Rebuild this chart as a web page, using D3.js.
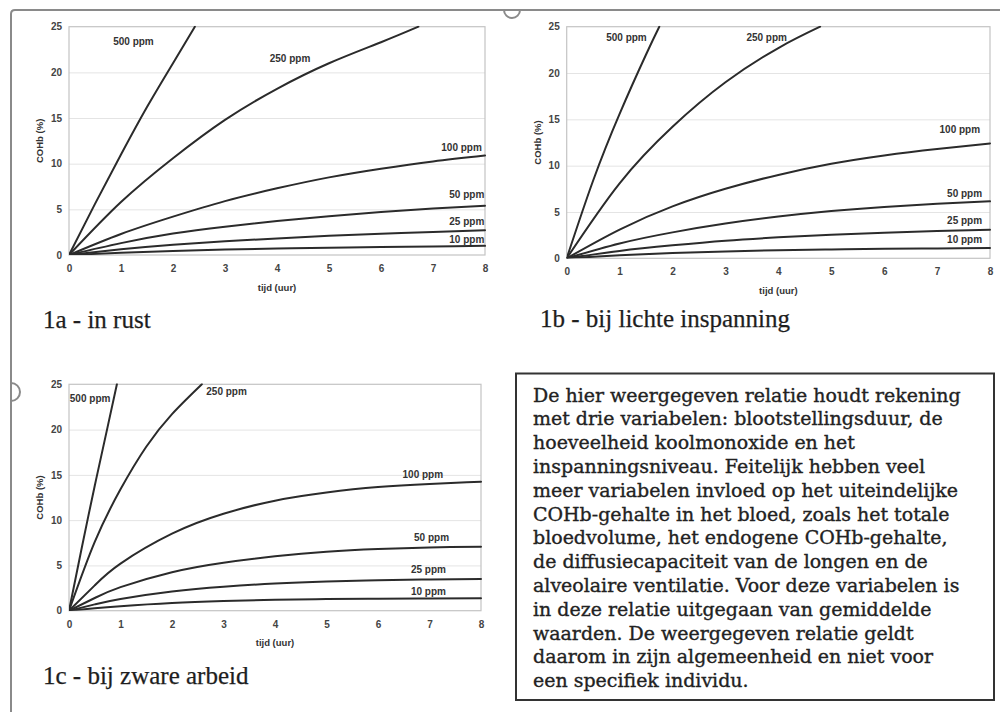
<!DOCTYPE html>
<html>
<head>
<meta charset="utf-8">
<script src="https://cdn.jsdelivr.net/npm/d3@7"></script>
<style>
  html, body { margin: 0; padding: 0; background: #fff; }
  svg { display: block; }
</style>
</head>
<body>
<svg id="chart" width="1000" height="712"></svg>
<script>
// ---------------- data ----------------
const hours = [0, 1, 2, 3, 4, 5, 6, 7, 8];
const hoursFine = [0, 0.5, 1, 2, 3, 4, 5, 6, 7, 8];
const seriesNames = ["500 ppm", "250 ppm", "100 ppm", "50 ppm", "25 ppm", "10 ppm"];
const yTicks = [0, 5, 10, 15, 20, 25];
const xTicks = [0, 1, 2, 3, 4, 5, 6, 7, 8];
const xTitle = "tijd (uur)";
const yTitle = "COHb (%)";
const captions = ["1a - in rust", "1b - bij lichte inspanning", "1c - bij zware arbeid"];

// 1a - in rust
const restT500 = [0, 0.5, 1, 1.5, 2, 2.42];
const restV500 = [0, 5.6, 11.0, 16.2, 21.0, 25];
const restT250 = [0, 1, 2, 3, 4, 5, 6, 6.72];
const restV250 = [0, 5.8, 10.6, 14.8, 18.2, 21.0, 23.3, 25];
const rest100 = [0, 2.3, 4.2, 5.9, 7.3, 8.5, 9.45, 10.25, 10.9];
const rest50  = [0, 1.3, 2.35, 3.1, 3.72, 4.25, 4.7, 5.08, 5.4];
const rest25  = [0, 0.62, 1.12, 1.5, 1.82, 2.1, 2.32, 2.53, 2.72];
const rest10  = [0, 0.25, 0.45, 0.6, 0.71, 0.8, 0.87, 0.94, 1.0];
const restLabelT = [1.24, 4.25, 7.55, 7.65, 7.65, 7.65];
const restLabelV = [23.25, 21.43, 11.68, 6.57, 3.54, 1.57];

// 1b - bij lichte inspanning
const lightT500 = [0, 0.5, 1, 1.5, 1.75];
const lightV500 = [0, 8.4, 15.6, 22.0, 25];
const lightT250 = [0, 1, 2, 3, 4, 4.79];
const lightV250 = [0, 8.1, 14.2, 19.0, 22.7, 25];
const light100 = [0, 3.1, 5.6, 7.5, 9.0, 10.2, 11.1, 11.8, 12.4];
const light50  = [0, 1.6, 2.8, 3.75, 4.5, 5.1, 5.55, 5.88, 6.15];
const light25  = [0, 0.8, 1.4, 1.9, 2.26, 2.55, 2.77, 2.95, 3.08];
const light10  = [0, 0.32, 0.56, 0.74, 0.87, 0.96, 1.02, 1.07, 1.1];
const lightLabelT = [1.13, 3.78, 7.43, 7.52, 7.52, 7.52];
const lightLabelV = [23.75, 23.75, 13.77, 6.94, 3.95, 1.97];

// 1c - bij zware arbeid
const heavyT500 = [0, 0.25, 0.5, 0.75, 0.93];
const heavyV500 = [0, 7.0, 13.8, 20.3, 25];
const heavyT250 = [0, 0.5, 1, 1.5, 2, 2.58];
const heavyV250 = [0, 7.6, 13.4, 18.1, 21.7, 25];
const heavy100 = [0, 2.8, 5.2, 8.5, 10.7, 12.15, 13.05, 13.65, 14.0, 14.25];
const heavy50  = [0, 1.4, 2.6, 4.25, 5.3, 6.0, 6.5, 6.8, 6.98, 7.07];
const heavy25  = [0, 0.7, 1.3, 2.12, 2.65, 3.0, 3.22, 3.36, 3.45, 3.5];
const heavy10  = [0, 0.27, 0.5, 0.85, 1.06, 1.2, 1.28, 1.32, 1.35, 1.37];
const heavyLabelT = [0.41, 3.06, 6.87, 7.04, 6.98, 6.98];
const heavyLabelV = [23.35, 24.13, 14.99, 8.0, 4.43, 2.04];

const noteLines = [
  "De hier weergegeven relatie houdt rekening",
  "met drie variabelen: blootstellingsduur, de",
  "hoeveelheid koolmonoxide en het",
  "inspanningsniveau. Feitelijk hebben veel",
  "meer variabelen invloed op het uiteindelijke",
  "COHb-gehalte in het bloed, zoals het totale",
  "bloedvolume, het endogene COHb-gehalte,",
  "de diffusiecapaciteit van de longen en de",
  "alveolaire ventilatie. Voor deze variabelen is",
  "in deze relatie uitgegaan van gemiddelde",
  "waarden. De weergegeven relatie geldt",
  "daarom in zijn algemeenheid en niet voor",
  "een specifiek individu."
];

// ---------------- build ----------------
const zip = (ts, vs) => ts.map((t, i) => ({ t, v: vs[i] }));

const panels = [
  {
    box: { x0: 69, x1: 485, y0: 26.7, y1: 255 },
    caption: { x: 43, y: 328 },
    series: [zip(restT500, restV500), zip(restT250, restV250), zip(hours, rest100),
             zip(hours, rest50), zip(hours, rest25), zip(hours, rest10)],
    labelT: restLabelT, labelV: restLabelV, caption_i: 0
  },
  {
    box: { x0: 566.7, x1: 990, y0: 26.7, y1: 258.3 },
    caption: { x: 540, y: 327 },
    series: [zip(lightT500, lightV500), zip(lightT250, lightV250), zip(hours, light100),
             zip(hours, light50), zip(hours, light25), zip(hours, light10)],
    labelT: lightLabelT, labelV: lightLabelV, caption_i: 1
  },
  {
    box: { x0: 69, x1: 481, y0: 384.3, y1: 610.7 },
    caption: { x: 43, y: 684 },
    series: [zip(heavyT500, heavyV500), zip(heavyT250, heavyV250), zip(hoursFine, heavy100),
             zip(hoursFine, heavy50), zip(hoursFine, heavy25), zip(hoursFine, heavy10)],
    labelT: heavyLabelT, labelV: heavyLabelV, caption_i: 2
  }
];

const svg = d3.select("#chart");

// frame of the embedded picture
svg.append("path")
  .attr("d", "M11,712 L11,14 Q11,10 15,10 L1000,10")
  .attr("fill", "none").attr("stroke", "#8a8a8a").attr("stroke-width", 2);
svg.append("path")
  .attr("d", d3.arc()({ innerRadius: 8, outerRadius: 8, startAngle: Math.PI / 2, endAngle: Math.PI * 1.5 }))
  .attr("transform", "translate(512,10)")
  .attr("fill", "none").attr("stroke", "#8a8a8a").attr("stroke-width", 2);
svg.append("path")
  .attr("d", d3.arc()({ innerRadius: 9, outerRadius: 9, startAngle: 0, endAngle: Math.PI }))
  .attr("transform", "translate(11,392)")
  .attr("fill", "none").attr("stroke", "#8a8a8a").attr("stroke-width", 2);

const tickFont = "'Liberation Sans', Arial, sans-serif";

panels.forEach((p, pi) => {
  const b = p.box;
  const x = d3.scaleLinear().domain([0, 8]).range([b.x0, b.x1]);
  const y = d3.scaleLinear().domain([0, 25]).range([b.y1, b.y0]);
  const g = svg.append("g");

  const clipId = "clip" + pi;
  g.append("clipPath").attr("id", clipId)
    .append("rect").attr("x", b.x0).attr("y", b.y0 - 1)
    .attr("width", b.x1 - b.x0 + 1).attr("height", b.y1 - b.y0 + 1);

  // gridlines
  g.append("g")
    .attr("transform", `translate(${b.x0},0)`)
    .call(d3.axisLeft(y).tickValues(yTicks.slice(1, -1)).tickSize(-(b.x1 - b.x0)).tickFormat(""))
    .call(s => s.select(".domain").remove())
    .call(s => s.selectAll("line").attr("stroke", "#e4e4e4").attr("stroke-width", 1));

  // plot frame
  g.append("rect")
    .attr("x", b.x0).attr("y", b.y0)
    .attr("width", b.x1 - b.x0).attr("height", b.y1 - b.y0)
    .attr("fill", "none").attr("stroke", "#c4c4c4").attr("stroke-width", 1.2);

  // y axis labels
  g.append("g")
    .attr("transform", `translate(${b.x0 - 3},0)`)
    .call(d3.axisLeft(y).tickValues(yTicks).tickSize(0).tickPadding(4))
    .call(s => s.select(".domain").remove())
    .call(s => s.selectAll("text").attr("font-family", tickFont).attr("font-size", 10)
      .attr("font-weight", "bold").attr("fill", "#444"));

  // x axis labels
  g.append("g")
    .attr("transform", `translate(0,${b.y1 + 8})`)
    .call(d3.axisBottom(x).tickValues(xTicks).tickSize(0).tickPadding(2))
    .call(s => s.select(".domain").remove())
    .call(s => s.selectAll("text").attr("font-family", tickFont).attr("font-size", 10)
      .attr("font-weight", "bold").attr("fill", "#444"));

  // axis titles
  g.append("text")
    .attr("x", (b.x0 + b.x1) / 2).attr("y", b.y1 + 33)
    .attr("text-anchor", "middle").attr("dominant-baseline", "middle")
    .attr("font-family", tickFont).attr("font-size", 9.5).attr("font-weight", "bold").attr("fill", "#333")
    .text(xTitle);
  g.append("text")
    .attr("transform", `translate(${b.x0 - 28.5},${(b.y0 + b.y1) / 2}) rotate(-90)`)
    .attr("text-anchor", "middle").attr("dominant-baseline", "middle")
    .attr("font-family", tickFont).attr("font-size", 9.5).attr("font-weight", "bold").attr("fill", "#333")
    .text(yTitle);

  // curves
  const line = d3.line().x(d => x(d.t)).y(d => y(d.v)).curve(d3.curveNatural);
  g.append("g").attr("clip-path", `url(#${clipId})`)
    .selectAll("path").data(p.series).join("path")
    .attr("d", line)
    .attr("fill", "none").attr("stroke", "#2b2b2b").attr("stroke-width", 2)
    .attr("stroke-linecap", "round");

  // curve labels
  g.selectAll("text.lbl").data(seriesNames).join("text")
    .attr("class", "lbl")
    .attr("x", (d, i) => x(p.labelT[i])).attr("y", (d, i) => y(p.labelV[i]))
    .attr("text-anchor", "middle").attr("dominant-baseline", "middle")
    .attr("font-family", tickFont).attr("font-size", 10).attr("font-weight", "bold").attr("fill", "#333")
    .text(d => d);

  // caption
  svg.append("text")
    .attr("x", p.caption.x).attr("y", p.caption.y)
    .attr("font-family", "'Liberation Serif', 'Times New Roman', serif")
    .attr("font-size", 25).attr("fill", "#1e1e1e")
    .attr("stroke", "#1e1e1e").attr("stroke-width", 0.25)
    .text(captions[p.caption_i]);
});

// note box
const note = svg.append("g");
note.append("rect")
  .attr("x", 516).attr("y", 373.5).attr("width", 478).attr("height", 326.5)
  .attr("fill", "#fff").attr("stroke", "#333").attr("stroke-width", 2);
const noteText = note.append("g")
  .attr("font-family", "'DejaVu Serif', serif").attr("fill", "#222")
  .attr("stroke", "#222").attr("stroke-width", 0.35);
const tl = noteText.selectAll("text").data(noteLines).join("text")
  .attr("x", 533).attr("y", (d, i) => 401.5 + i * 23.8)
  .attr("font-size", 18)
  .text(d => d);
// fit font size so the widest line spans like the reference (~428 px)
const widest = d3.max(tl.nodes(), n => n.getComputedTextLength());
const fs = 18 * 428 / widest;
tl.attr("font-size", fs);
</script>
</body>
</html>
